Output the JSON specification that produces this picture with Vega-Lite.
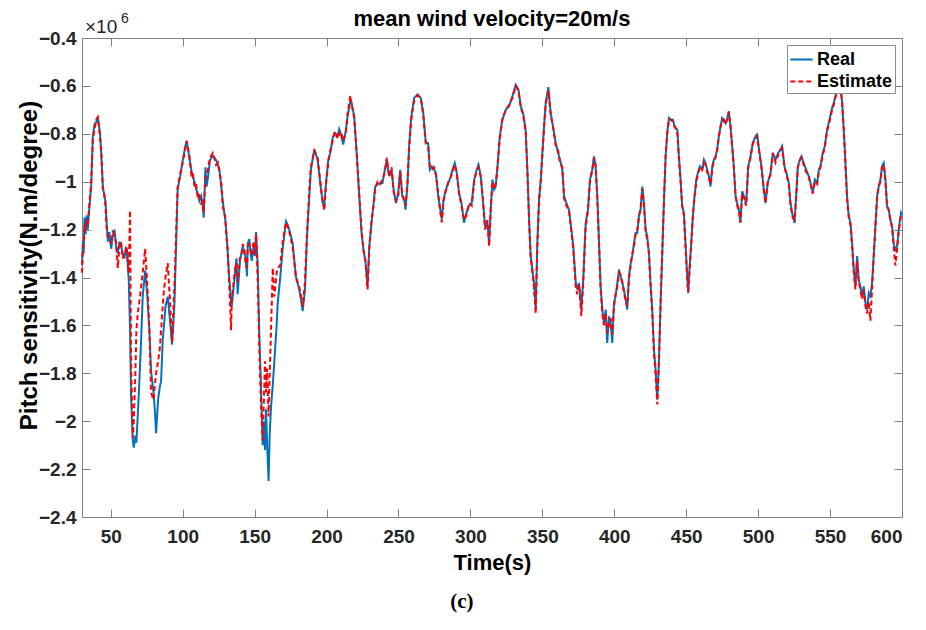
{
"$schema": "https://vega.github.io/schema/vega-lite/v6.json",
"width": 820, "height": 479,
"autosize": {"type": "none"},
"padding": {"left": 82, "top": 38, "right": 24, "bottom": 113},
"background": "white",
"title": {"text": "mean wind velocity=20m/s", "font": "Liberation Sans", "fontSize": 22, "fontWeight": "bold", "color": "#000000", "offset": 8, "dy": 27, "anchor": "middle"},
"config": {"view": {"stroke": null}, "font": "Liberation Sans"},
"data": {"values": [
{"t":30,"Real":-1.35,"Estimate":-1.38},{"t":30.6,"Real":-1.25,"Estimate":-1.28},{"t":31.2,"Real":-1.3,"Estimate":-1.26},{"t":31.7,"Real":-1.15,"Estimate":-1.18},{"t":32.5,"Real":-1.22,"Estimate":-1.2},{"t":33.2,"Real":-1.14,"Estimate":-1.17},{"t":34,"Real":-1.2,"Estimate":-1.18},{"t":35,"Real":-1.12,"Estimate":-1.1},{"t":36.4,"Real":-1.02,"Estimate":-1.0},{"t":37.5,"Real":-0.81,"Estimate":-0.83},{"t":38.7,"Real":-0.76,"Estimate":-0.78},{"t":40,"Real":-0.75,"Estimate":-0.74},{"t":41,"Real":-0.73,"Estimate":-0.73},{"t":42.6,"Real":-0.8,"Estimate":-0.82},{"t":43.5,"Real":-0.9,"Estimate":-0.88},{"t":44.5,"Real":-1.02,"Estimate":-1.04},{"t":45.5,"Real":-1.06,"Estimate":-1.05},{"t":46.3,"Real":-1.08,"Estimate":-1.1},{"t":47.2,"Real":-1.18,"Estimate":-1.2},{"t":48,"Real":-1.25,"Estimate":-1.23},{"t":49,"Real":-1.21,"Estimate":-1.24},{"t":50.3,"Real":-1.28,"Estimate":-1.26},{"t":51.3,"Real":-1.23,"Estimate":-1.21},{"t":52.6,"Real":-1.2,"Estimate":-1.22},{"t":53.6,"Real":-1.27,"Estimate":-1.25},{"t":54.9,"Real":-1.3,"Estimate":-1.36},{"t":56,"Real":-1.25,"Estimate":-1.27},{"t":57.2,"Real":-1.27,"Estimate":-1.25},{"t":58.3,"Real":-1.3,"Estimate":-1.32},{"t":59.5,"Real":-1.32,"Estimate":-1.3},{"t":60.3,"Real":-1.28,"Estimate":-1.3},{"t":61.1,"Real":-1.29,"Estimate":-1.27},{"t":62.5,"Real":-1.41,"Estimate":-1.38},{"t":63.4,"Real":-1.62,"Estimate":-1.12},{"t":64.1,"Real":-1.9,"Estimate":-1.75},{"t":65.3,"Real":-2.08,"Estimate":-2.07},{"t":66,"Real":-2.11,"Estimate":-2.0},{"t":67.1,"Real":-2.06,"Estimate":-1.8},{"t":67.8,"Real":-2.09,"Estimate":-1.62},{"t":68.8,"Real":-1.97,"Estimate":-1.55},{"t":69.9,"Real":-1.83,"Estimate":-1.5},{"t":71.1,"Real":-1.66,"Estimate":-1.44},{"t":72.2,"Real":-1.48,"Estimate":-1.38},{"t":73.9,"Real":-1.37,"Estimate":-1.28},{"t":75.3,"Real":-1.47,"Estimate":-1.42},{"t":76.9,"Real":-1.63,"Estimate":-1.62},{"t":78,"Real":-1.79,"Estimate":-1.88},{"t":79.7,"Real":-1.88,"Estimate":-1.91},{"t":80.6,"Real":-1.95,"Estimate":-1.85},{"t":81.5,"Real":-2.05,"Estimate":-1.8},{"t":82.9,"Real":-1.91,"Estimate":-1.75},{"t":84,"Real":-1.86,"Estimate":-1.7},{"t":85,"Real":-1.83,"Estimate":-1.62},{"t":86.1,"Real":-1.66,"Estimate":-1.52},{"t":87,"Real":-1.6,"Estimate":-1.45},{"t":88,"Real":-1.52,"Estimate":-1.4},{"t":89.6,"Real":-1.48,"Estimate":-1.34},{"t":91.2,"Real":-1.58,"Estimate":-1.5},{"t":92.6,"Real":-1.68,"Estimate":-1.67},{"t":94.2,"Real":-1.52,"Estimate":-1.45},{"t":95.4,"Real":-1.27,"Estimate":-1.22},{"t":96.5,"Real":-1.03,"Estimate":-1.02},{"t":98.2,"Real":-0.98,"Estimate":-0.97},{"t":100,"Real":-0.91,"Estimate":-0.92},{"t":101.9,"Real":-0.85,"Estimate":-0.86},{"t":102.8,"Real":-0.83,"Estimate":-0.83},{"t":104.6,"Real":-0.9,"Estimate":-0.89},{"t":106,"Real":-0.95,"Estimate":-0.97},{"t":107,"Real":-0.98,"Estimate":-0.96},{"t":108.2,"Real":-1.0,"Estimate":-1.02},{"t":109.3,"Real":-1.03,"Estimate":-1.01},{"t":110.5,"Real":-1.05,"Estimate":-1.07},{"t":111.6,"Real":-1.08,"Estimate":-1.06},{"t":112.8,"Real":-1.06,"Estimate":-1.09},{"t":113.9,"Real":-1.1,"Estimate":-1.08},{"t":114.6,"Real":-1.15,"Estimate":-1.13},{"t":115.8,"Real":-0.94,"Estimate":-0.98},{"t":116.6,"Real":-1.02,"Estimate":-0.97},{"t":117.4,"Real":-0.99,"Estimate":-0.95},{"t":119,"Real":-0.91,"Estimate":-0.9},{"t":120.9,"Real":-0.89,"Estimate":-0.88},{"t":123.2,"Real":-0.91,"Estimate":-0.93},{"t":124.5,"Real":-0.93,"Estimate":-0.92},{"t":125.5,"Real":-0.95,"Estimate":-0.96},{"t":126.8,"Real":-1.02,"Estimate":-1.0},{"t":127.8,"Real":-1.08,"Estimate":-1.1},{"t":129.6,"Real":-1.16,"Estimate":-1.15},{"t":130.5,"Real":-1.22,"Estimate":-1.24},{"t":131.3,"Real":-1.3,"Estimate":-1.28},{"t":132.1,"Real":-1.38,"Estimate":-1.4},{"t":132.9,"Real":-1.44,"Estimate":-1.5},{"t":133.6,"Real":-1.5,"Estimate":-1.62},{"t":134.1,"Real":-1.52,"Estimate":-1.5},{"t":135.4,"Real":-1.44,"Estimate":-1.42},{"t":136.6,"Real":-1.37,"Estimate":-1.36},{"t":137.4,"Real":-1.32,"Estimate":-1.34},{"t":138.2,"Real":-1.47,"Estimate":-1.42},{"t":139.8,"Real":-1.33,"Estimate":-1.32},{"t":140.8,"Real":-1.3,"Estimate":-1.31},{"t":141.7,"Real":-1.27,"Estimate":-1.26},{"t":142.9,"Real":-1.3,"Estimate":-1.28},{"t":143.5,"Real":-1.31,"Estimate":-1.33},{"t":144.7,"Real":-1.395,"Estimate":-1.36},{"t":145.2,"Real":-1.26,"Estimate":-1.27},{"t":146.3,"Real":-1.24,"Estimate":-1.26},{"t":147.2,"Real":-1.3,"Estimate":-1.28},{"t":148,"Real":-1.33,"Estimate":-1.31},{"t":149.3,"Real":-1.27,"Estimate":-1.25},{"t":150.2,"Real":-1.31,"Estimate":-1.3},{"t":151,"Real":-1.21,"Estimate":-1.22},{"t":152.1,"Real":-1.34,"Estimate":-1.4},{"t":153.3,"Real":-1.65,"Estimate":-1.7},{"t":154.4,"Real":-1.85,"Estimate":-1.93},{"t":155.6,"Real":-2.1,"Estimate":-2.08},{"t":156.5,"Real":-2.0,"Estimate":-1.9},{"t":157.2,"Real":-2.12,"Estimate":-1.75},{"t":157.9,"Real":-1.95,"Estimate":-1.88},{"t":158.7,"Real":-2.1,"Estimate":-1.78},{"t":159.7,"Real":-2.25,"Estimate":-1.98},{"t":160.5,"Real":-2.05,"Estimate":-1.8},{"t":161.4,"Real":-1.94,"Estimate":-1.62},{"t":162.6,"Real":-1.85,"Estimate":-1.36},{"t":163.7,"Real":-1.75,"Estimate":-1.48},{"t":165.3,"Real":-1.6,"Estimate":-1.38},{"t":166,"Real":-1.51,"Estimate":-1.36},{"t":167.8,"Real":-1.4,"Estimate":-1.35},{"t":169.5,"Real":-1.28,"Estimate":-1.25},{"t":171.8,"Real":-1.165,"Estimate":-1.17},{"t":173,"Real":-1.18,"Estimate":-1.19},{"t":174.1,"Real":-1.2,"Estimate":-1.21},{"t":176.4,"Real":-1.256,"Estimate":-1.27},{"t":178.7,"Real":-1.395,"Estimate":-1.4},{"t":181,"Real":-1.45,"Estimate":-1.44},{"t":182.4,"Real":-1.5,"Estimate":-1.48},{"t":183.4,"Real":-1.54,"Estimate":-1.52},{"t":185,"Real":-1.45,"Estimate":-1.42},{"t":186.4,"Real":-1.23,"Estimate":-1.22},{"t":188,"Real":-1.06,"Estimate":-1.04},{"t":189.1,"Real":-0.95,"Estimate":-0.94},{"t":191.5,"Real":-0.866,"Estimate":-0.87},{"t":193.8,"Real":-0.908,"Estimate":-0.9},{"t":195.6,"Real":-1.005,"Estimate":-1.0},{"t":197.3,"Real":-1.089,"Estimate":-1.08},{"t":198.4,"Real":-1.1,"Estimate":-1.12},{"t":199.6,"Real":-1.005,"Estimate":-1.01},{"t":201.2,"Real":-0.908,"Estimate":-0.92},{"t":202.6,"Real":-0.88,"Estimate":-0.87},{"t":204.2,"Real":-0.817,"Estimate":-0.83},{"t":205.8,"Real":-0.796,"Estimate":-0.79},{"t":207.7,"Real":-0.81,"Estimate":-0.82},{"t":208.8,"Real":-0.78,"Estimate":-0.8},{"t":210,"Real":-0.803,"Estimate":-0.79},{"t":211.6,"Real":-0.845,"Estimate":-0.83},{"t":213.5,"Real":-0.782,"Estimate":-0.79},{"t":214.6,"Real":-0.727,"Estimate":-0.72},{"t":216.5,"Real":-0.664,"Estimate":-0.64},{"t":217.4,"Real":-0.67,"Estimate":-0.68},{"t":219.2,"Real":-0.727,"Estimate":-0.73},{"t":221.1,"Real":-0.894,"Estimate":-0.9},{"t":222.7,"Real":-1.06,"Estimate":-1.05},{"t":224.3,"Real":-1.214,"Estimate":-1.2},{"t":225.7,"Real":-1.284,"Estimate":-1.29},{"t":227.1,"Real":-1.34,"Estimate":-1.33},{"t":228.5,"Real":-1.437,"Estimate":-1.45},{"t":229.7,"Real":-1.27,"Estimate":-1.28},{"t":231.3,"Real":-1.17,"Estimate":-1.16},{"t":232.7,"Real":-1.089,"Estimate":-1.1},{"t":233.8,"Real":-1.02,"Estimate":-1.03},{"t":235.4,"Real":-1.012,"Estimate":-1.0},{"t":237.3,"Real":-1.005,"Estimate":-1.01},{"t":238.9,"Real":-1.005,"Estimate":-0.99},{"t":240.5,"Real":-0.95,"Estimate":-0.96},{"t":241.9,"Real":-0.908,"Estimate":-0.9},{"t":243.5,"Real":-0.977,"Estimate":-0.98},{"t":245.2,"Real":-0.95,"Estimate":-0.94},{"t":246.6,"Real":-1.033,"Estimate":-1.04},{"t":248.2,"Real":-1.089,"Estimate":-1.08},{"t":249.8,"Real":-1.047,"Estimate":-1.06},{"t":251.2,"Real":-0.95,"Estimate":-0.96},{"t":252.6,"Real":-1.06,"Estimate":-1.05},{"t":254,"Real":-1.075,"Estimate":-1.08},{"t":254.9,"Real":-1.117,"Estimate":-1.1},{"t":256.3,"Real":-1.005,"Estimate":-1.0},{"t":257.4,"Real":-0.85,"Estimate":-0.86},{"t":258.6,"Real":-0.75,"Estimate":-0.76},{"t":259.3,"Real":-0.713,"Estimate":-0.72},{"t":260.9,"Real":-0.65,"Estimate":-0.66},{"t":263.2,"Real":-0.636,"Estimate":-0.64},{"t":265.5,"Real":-0.65,"Estimate":-0.65},{"t":267.2,"Real":-0.713,"Estimate":-0.72},{"t":269,"Real":-0.838,"Estimate":-0.84},{"t":270.6,"Real":-0.838,"Estimate":-0.85},{"t":271.8,"Real":-0.95,"Estimate":-0.94},{"t":273.2,"Real":-0.936,"Estimate":-0.95},{"t":274.8,"Real":-0.95,"Estimate":-0.94},{"t":276,"Real":-0.963,"Estimate":-0.97},{"t":277.6,"Real":-1.06,"Estimate":-1.05},{"t":278.7,"Real":-1.1,"Estimate":-1.11},{"t":280.1,"Real":-1.158,"Estimate":-1.17},{"t":281.3,"Real":-1.075,"Estimate":-1.08},{"t":282.9,"Real":-1.033,"Estimate":-1.04},{"t":284.7,"Real":-1.005,"Estimate":-1.0},{"t":286.4,"Real":-0.977,"Estimate":-0.98},{"t":287.5,"Real":-0.95,"Estimate":-0.96},{"t":289.1,"Real":-0.922,"Estimate":-0.93},{"t":290.5,"Real":-0.963,"Estimate":-0.96},{"t":292.1,"Real":-1.047,"Estimate":-1.05},{"t":293.8,"Real":-1.089,"Estimate":-1.1},{"t":295.6,"Real":-1.172,"Estimate":-1.16},{"t":297.2,"Real":-1.13,"Estimate":-1.14},{"t":299.1,"Real":-1.1,"Estimate":-1.09},{"t":300.9,"Real":-1.089,"Estimate":-1.1},{"t":302.6,"Real":-0.991,"Estimate":-1.0},{"t":304.4,"Real":-0.95,"Estimate":-0.95},{"t":305.6,"Real":-0.929,"Estimate":-0.94},{"t":307.2,"Real":-0.977,"Estimate":-0.98},{"t":308.8,"Real":-1.089,"Estimate":-1.08},{"t":310.2,"Real":-1.186,"Estimate":-1.2},{"t":311.8,"Real":-1.172,"Estimate":-1.16},{"t":313,"Real":-1.256,"Estimate":-1.27},{"t":314.1,"Real":-1.117,"Estimate":-1.12},{"t":315.3,"Real":-0.991,"Estimate":-1.0},{"t":316.5,"Real":-1.033,"Estimate":-1.03},{"t":317.6,"Real":-1.02,"Estimate":-1.01},{"t":318.8,"Real":-0.936,"Estimate":-0.94},{"t":320.4,"Real":-0.81,"Estimate":-0.82},{"t":322.2,"Real":-0.741,"Estimate":-0.74},{"t":324.6,"Real":-0.699,"Estimate":-0.7},{"t":326.9,"Real":-0.685,"Estimate":-0.68},{"t":329.2,"Real":-0.643,"Estimate":-0.65},{"t":331.5,"Real":-0.595,"Estimate":-0.6},{"t":333.4,"Real":-0.615,"Estimate":-0.62},{"t":335,"Real":-0.685,"Estimate":-0.69},{"t":336.6,"Real":-0.713,"Estimate":-0.72},{"t":338.4,"Real":-0.783,"Estimate":-0.79},{"t":339.6,"Real":-0.95,"Estimate":-0.96},{"t":340.8,"Real":-1.158,"Estimate":-1.17},{"t":341.9,"Real":-1.31,"Estimate":-1.32},{"t":343.1,"Real":-1.367,"Estimate":-1.38},{"t":344.2,"Real":-1.423,"Estimate":-1.44},{"t":345.4,"Real":-1.534,"Estimate":-1.55},{"t":346.5,"Real":-1.256,"Estimate":-1.27},{"t":347.7,"Real":-1.075,"Estimate":-1.08},{"t":348.9,"Real":-0.991,"Estimate":-1.0},{"t":350,"Real":-0.88,"Estimate":-0.89},{"t":351.2,"Real":-0.769,"Estimate":-0.77},{"t":352.3,"Real":-0.671,"Estimate":-0.68},{"t":354.2,"Real":-0.605,"Estimate":-0.62},{"t":355.8,"Real":-0.713,"Estimate":-0.72},{"t":357.4,"Real":-0.769,"Estimate":-0.77},{"t":359.3,"Real":-0.838,"Estimate":-0.85},{"t":360.9,"Real":-0.88,"Estimate":-0.87},{"t":362.3,"Real":-0.908,"Estimate":-0.92},{"t":363.9,"Real":-0.95,"Estimate":-0.94},{"t":365.1,"Real":-1.06,"Estimate":-1.07},{"t":366.7,"Real":-1.089,"Estimate":-1.1},{"t":368.5,"Real":-1.117,"Estimate":-1.12},{"t":370.2,"Real":-1.2,"Estimate":-1.21},{"t":371.5,"Real":-1.27,"Estimate":-1.28},{"t":373.2,"Real":-1.42,"Estimate":-1.44},{"t":374.3,"Real":-1.45,"Estimate":-1.47},{"t":375.5,"Real":-1.423,"Estimate":-1.43},{"t":377.1,"Real":-1.534,"Estimate":-1.56},{"t":378.5,"Real":-1.395,"Estimate":-1.41},{"t":380.1,"Real":-1.172,"Estimate":-1.19},{"t":381.7,"Real":-1.117,"Estimate":-1.12},{"t":383.1,"Real":-0.991,"Estimate":-1.0},{"t":384.7,"Real":-0.95,"Estimate":-0.95},{"t":385.9,"Real":-0.894,"Estimate":-0.9},{"t":387,"Real":-0.936,"Estimate":-0.93},{"t":388.2,"Real":-1.06,"Estimate":-1.07},{"t":389.4,"Real":-1.256,"Estimate":-1.26},{"t":390.5,"Real":-1.437,"Estimate":-1.45},{"t":391.7,"Real":-1.534,"Estimate":-1.55},{"t":392.8,"Real":-1.59,"Estimate":-1.6},{"t":394,"Real":-1.534,"Estimate":-1.55},{"t":395.1,"Real":-1.673,"Estimate":-1.63},{"t":396.3,"Real":-1.562,"Estimate":-1.6},{"t":397.5,"Real":-1.59,"Estimate":-1.57},{"t":398.6,"Real":-1.673,"Estimate":-1.64},{"t":399.8,"Real":-1.506,"Estimate":-1.52},{"t":400.9,"Real":-1.478,"Estimate":-1.47},{"t":402.1,"Real":-1.423,"Estimate":-1.44},{"t":403.3,"Real":-1.367,"Estimate":-1.38},{"t":404.4,"Real":-1.395,"Estimate":-1.39},{"t":405.6,"Real":-1.423,"Estimate":-1.42},{"t":406.7,"Real":-1.45,"Estimate":-1.46},{"t":407.9,"Real":-1.492,"Estimate":-1.5},{"t":409,"Real":-1.534,"Estimate":-1.52},{"t":410.2,"Real":-1.395,"Estimate":-1.41},{"t":411.4,"Real":-1.34,"Estimate":-1.35},{"t":412.5,"Real":-1.31,"Estimate":-1.3},{"t":413.7,"Real":-1.256,"Estimate":-1.27},{"t":414.8,"Real":-1.214,"Estimate":-1.22},{"t":416,"Real":-1.214,"Estimate":-1.2},{"t":417.1,"Real":-1.144,"Estimate":-1.15},{"t":418.3,"Real":-1.117,"Estimate":-1.11},{"t":419.5,"Real":-1.02,"Estimate":-1.03},{"t":420.6,"Real":-1.089,"Estimate":-1.09},{"t":421.8,"Real":-1.2,"Estimate":-1.21},{"t":422.9,"Real":-1.228,"Estimate":-1.24},{"t":424.1,"Real":-1.298,"Estimate":-1.3},{"t":425.2,"Real":-1.423,"Estimate":-1.43},{"t":426.4,"Real":-1.534,"Estimate":-1.55},{"t":427.6,"Real":-1.7,"Estimate":-1.72},{"t":428.7,"Real":-1.785,"Estimate":-1.8},{"t":429.9,"Real":-1.91,"Estimate":-1.93},{"t":431,"Real":-1.757,"Estimate":-1.76},{"t":432.2,"Real":-1.506,"Estimate":-1.5},{"t":433.3,"Real":-1.31,"Estimate":-1.3},{"t":434.5,"Real":-1.089,"Estimate":-1.08},{"t":435.7,"Real":-0.894,"Estimate":-0.89},{"t":436.8,"Real":-0.796,"Estimate":-0.8},{"t":438,"Real":-0.734,"Estimate":-0.74},{"t":439.1,"Real":-0.741,"Estimate":-0.74},{"t":440.8,"Real":-0.741,"Estimate":-0.75},{"t":441.9,"Real":-0.769,"Estimate":-0.77},{"t":443.8,"Real":-0.783,"Estimate":-0.79},{"t":444.9,"Real":-0.894,"Estimate":-0.9},{"t":446.1,"Real":-0.991,"Estimate":-1.0},{"t":447.2,"Real":-1.103,"Estimate":-1.1},{"t":448.4,"Real":-1.13,"Estimate":-1.14},{"t":449.5,"Real":-1.256,"Estimate":-1.27},{"t":450.7,"Real":-1.395,"Estimate":-1.41},{"t":451.4,"Real":-1.465,"Estimate":-1.46},{"t":452.3,"Real":-1.367,"Estimate":-1.37},{"t":453.5,"Real":-1.256,"Estimate":-1.26},{"t":454.6,"Real":-1.144,"Estimate":-1.15},{"t":455.8,"Real":-1.06,"Estimate":-1.06},{"t":457,"Real":-0.991,"Estimate":-1.0},{"t":458.1,"Real":-0.963,"Estimate":-0.97},{"t":459.5,"Real":-0.936,"Estimate":-0.94},{"t":461.1,"Real":-0.95,"Estimate":-0.95},{"t":462.3,"Real":-0.908,"Estimate":-0.92},{"t":463.4,"Real":-0.922,"Estimate":-0.93},{"t":464.6,"Real":-0.95,"Estimate":-0.96},{"t":465.8,"Real":-0.977,"Estimate":-0.98},{"t":466.9,"Real":-1.02,"Estimate":-1.01},{"t":468.1,"Real":-0.936,"Estimate":-0.95},{"t":469.2,"Real":-0.908,"Estimate":-0.91},{"t":470.4,"Real":-0.894,"Estimate":-0.9},{"t":471.5,"Real":-0.866,"Estimate":-0.87},{"t":472.7,"Real":-0.81,"Estimate":-0.81},{"t":473.9,"Real":-0.769,"Estimate":-0.77},{"t":475,"Real":-0.734,"Estimate":-0.74},{"t":476.2,"Real":-0.741,"Estimate":-0.75},{"t":477.3,"Real":-0.755,"Estimate":-0.76},{"t":478.5,"Real":-0.734,"Estimate":-0.74},{"t":479.6,"Real":-0.706,"Estimate":-0.71},{"t":480.8,"Real":-0.769,"Estimate":-0.77},{"t":482,"Real":-0.852,"Estimate":-0.86},{"t":483.1,"Real":-0.936,"Estimate":-0.94},{"t":484.3,"Real":-1.06,"Estimate":-1.06},{"t":485.4,"Real":-1.089,"Estimate":-1.1},{"t":486.6,"Real":-1.117,"Estimate":-1.12},{"t":487.7,"Real":-1.172,"Estimate":-1.17},{"t":488.9,"Real":-1.04,"Estimate":-1.05},{"t":490.1,"Real":-1.06,"Estimate":-1.07},{"t":491.7,"Real":-1.089,"Estimate":-1.1},{"t":493.1,"Real":-0.936,"Estimate":-0.94},{"t":494.7,"Real":-0.894,"Estimate":-0.9},{"t":496.3,"Real":-0.838,"Estimate":-0.84},{"t":498.2,"Real":-0.81,"Estimate":-0.82},{"t":499.3,"Real":-0.803,"Estimate":-0.81},{"t":501,"Real":-0.88,"Estimate":-0.89},{"t":502.3,"Real":-0.936,"Estimate":-0.94},{"t":504,"Real":-1.033,"Estimate":-1.04},{"t":505.1,"Real":-1.089,"Estimate":-1.09},{"t":506.7,"Real":-1.005,"Estimate":-1.0},{"t":508.6,"Real":-0.963,"Estimate":-0.97},{"t":510.2,"Real":-0.88,"Estimate":-0.88},{"t":512.1,"Real":-0.908,"Estimate":-0.92},{"t":513.9,"Real":-0.88,"Estimate":-0.89},{"t":515.5,"Real":-0.866,"Estimate":-0.87},{"t":516.7,"Real":-0.852,"Estimate":-0.86},{"t":518.3,"Real":-0.936,"Estimate":-0.94},{"t":519.7,"Real":-0.963,"Estimate":-0.97},{"t":521.3,"Real":-1.005,"Estimate":-1.01},{"t":522.5,"Real":-1.089,"Estimate":-1.1},{"t":524.1,"Real":-1.144,"Estimate":-1.15},{"t":525.3,"Real":-1.172,"Estimate":-1.16},{"t":526.4,"Real":-1.06,"Estimate":-1.07},{"t":527.6,"Real":-0.936,"Estimate":-0.94},{"t":529,"Real":-0.908,"Estimate":-0.91},{"t":530.1,"Real":-0.894,"Estimate":-0.9},{"t":531.7,"Real":-0.922,"Estimate":-0.93},{"t":533.4,"Real":-0.95,"Estimate":-0.96},{"t":535.2,"Real":-0.977,"Estimate":-0.98},{"t":536.4,"Real":-1.005,"Estimate":-1.01},{"t":538,"Real":-1.047,"Estimate":-1.05},{"t":539.4,"Real":-0.991,"Estimate":-1.0},{"t":541,"Real":-1.005,"Estimate":-1.01},{"t":542.2,"Real":-0.95,"Estimate":-0.96},{"t":543.3,"Real":-0.936,"Estimate":-0.94},{"t":544.9,"Real":-0.88,"Estimate":-0.89},{"t":546.3,"Real":-0.852,"Estimate":-0.86},{"t":547.9,"Real":-0.783,"Estimate":-0.79},{"t":549.6,"Real":-0.741,"Estimate":-0.75},{"t":551.4,"Real":-0.692,"Estimate":-0.7},{"t":552.6,"Real":-0.671,"Estimate":-0.68},{"t":553.7,"Real":-0.643,"Estimate":-0.65},{"t":554.9,"Real":-0.615,"Estimate":-0.62},{"t":556,"Real":-0.59,"Estimate":-0.6},{"t":557.2,"Real":-0.6,"Estimate":-0.6},{"t":558.4,"Real":-0.671,"Estimate":-0.67},{"t":559.5,"Real":-0.783,"Estimate":-0.78},{"t":560.7,"Real":-0.922,"Estimate":-0.93},{"t":561.8,"Real":-1.06,"Estimate":-1.07},{"t":563,"Real":-1.144,"Estimate":-1.15},{"t":564.2,"Real":-1.172,"Estimate":-1.18},{"t":565.3,"Real":-1.256,"Estimate":-1.27},{"t":566.5,"Real":-1.367,"Estimate":-1.38},{"t":567.6,"Real":-1.437,"Estimate":-1.45},{"t":568.8,"Real":-1.31,"Estimate":-1.33},{"t":569.9,"Real":-1.409,"Estimate":-1.42},{"t":571.1,"Real":-1.437,"Estimate":-1.45},{"t":572.2,"Real":-1.478,"Estimate":-1.49},{"t":573.4,"Real":-1.437,"Estimate":-1.45},{"t":574.6,"Real":-1.506,"Estimate":-1.52},{"t":575.7,"Real":-1.534,"Estimate":-1.55},{"t":576.9,"Real":-1.465,"Estimate":-1.5},{"t":578,"Real":-1.478,"Estimate":-1.58},{"t":579.2,"Real":-1.423,"Estimate":-1.45},{"t":580.3,"Real":-1.31,"Estimate":-1.32},{"t":581.5,"Real":-1.186,"Estimate":-1.19},{"t":582.7,"Real":-1.06,"Estimate":-1.07},{"t":583.8,"Real":-1.02,"Estimate":-1.02},{"t":585,"Real":-0.991,"Estimate":-1.0},{"t":586.1,"Real":-0.936,"Estimate":-0.94},{"t":587.3,"Real":-0.922,"Estimate":-0.93},{"t":588.5,"Real":-0.991,"Estimate":-1.0},{"t":589.6,"Real":-1.103,"Estimate":-1.1},{"t":590.8,"Real":-1.117,"Estimate":-1.12},{"t":591.9,"Real":-1.158,"Estimate":-1.16},{"t":593.1,"Real":-1.186,"Estimate":-1.19},{"t":594.2,"Real":-1.256,"Estimate":-1.27},{"t":595.4,"Real":-1.284,"Estimate":-1.35},{"t":596.6,"Real":-1.27,"Estimate":-1.28},{"t":597.7,"Real":-1.2,"Estimate":-1.21},{"t":599.3,"Real":-1.13,"Estimate":-1.14},{"t":600,"Real":-1.14,"Estimate":-1.15}
]},
"resolve": {"axis": {"x": "independent", "y": "independent"}},
"layer": [
{
"transform": [{"fold": ["Real", "Estimate"], "as": ["series", "value"]}, {"filter": "datum.series === 'Real'"}],
"mark": {"type": "line", "strokeWidth": 2},
"encoding": {
"x": {"field": "t", "type": "quantitative", "scale": {"domain": [30, 600], "nice": false, "zero": false},
"axis": {"orient": "bottom", "values": [50,100,150,200,250,300,350,400,450,500,550,600], "grid": false, "tickSize": -8, "tickColor": "#808080", "domainColor": "#808080", "labelPadding": 18, "labelFont": "Liberation Sans", "labelFontSize": 19, "labelFontWeight": "bold", "labelColor": "#262626", "title": "Time(s)", "titleFont": "Liberation Sans", "titleFontSize": 22, "titleFontWeight": "bold", "titleColor": "#000000", "titlePadding": 6}},
"y": {"field": "value", "type": "quantitative", "scale": {"domain": [-2.4, -0.4], "nice": false, "zero": false},
"axis": {"orient": "left", "values": [-2.4,-2.2,-2,-1.8,-1.6,-1.4,-1.2,-1,-0.8,-0.6,-0.4], "format": ".1~f", "grid": false, "tickSize": -8, "tickColor": "#808080", "domainColor": "#808080", "labelPadding": 14, "labelFont": "Liberation Sans", "labelFontSize": 19, "labelFontWeight": "bold", "labelColor": "#262626", "title": "Pitch sensitivity(N.m/degree)", "titleFont": "Liberation Sans", "titleFontSize": 24, "titleFontWeight": "bold", "titleColor": "#000000", "titlePadding": -3, "titleY": 227}},
"color": {"field": "series", "type": "nominal", "scale": {"domain": ["Real", "Estimate"], "range": ["#0072BD", "#FF0000"]},
"legend": {"title": null, "orient": "top-right", "offset": 7, "fillColor": "white", "strokeColor": "#8c8c8c", "padding": 2, "symbolType": "stroke", "symbolSize": 500, "symbolStrokeWidth": 2, "labelFont": "Liberation Sans", "labelFontSize": 18, "labelFontWeight": "bold", "labelColor": "#000000", "rowPadding": 0, "labelOffset": 3}},
"strokeDash": {"field": "series", "type": "nominal", "scale": {"domain": ["Real", "Estimate"], "range": [[1, 0], [5, 3]]},
"legend": {"title": null, "orient": "top-right", "offset": 7, "fillColor": "white", "strokeColor": "#8c8c8c", "padding": 2, "symbolType": "stroke", "symbolSize": 500, "symbolStrokeWidth": 2, "labelFont": "Liberation Sans", "labelFontSize": 18, "labelFontWeight": "bold", "labelColor": "#000000", "rowPadding": 0, "labelOffset": 3}}
}
},
{
"transform": [{"fold": ["Real", "Estimate"], "as": ["series", "value"]}, {"filter": "datum.series === 'Estimate'"}],
"mark": {"type": "line", "strokeWidth": 2},
"encoding": {
"x": {"field": "t", "type": "quantitative", "axis": null},
"y": {"field": "value", "type": "quantitative", "axis": null},
"color": {"field": "series", "type": "nominal"},
"strokeDash": {"field": "series", "type": "nominal"}
}
},
{
"data": {"values": [{}]},
"mark": {"type": "text", "text": "×10", "align": "left", "baseline": "alphabetic", "dx": 3, "dy": -5, "font": "Liberation Sans", "fontSize": 19, "color": "#262626"},
"encoding": {
"x": {"datum": 30, "type": "quantitative", "axis": {"orient": "top", "values": [50,100,150,200,250,300,350,400,450,500,550,600], "labels": false, "title": null, "grid": false, "tickSize": -8, "tickColor": "#808080", "domainColor": "#808080"}},
"y": {"datum": -0.4, "type": "quantitative", "axis": {"orient": "right", "values": [-2.4,-2.2,-2,-1.8,-1.6,-1.4,-1.2,-1,-0.8,-0.6,-0.4], "labels": false, "title": null, "grid": false, "tickSize": -8, "tickColor": "#808080", "domainColor": "#808080"}}
}
},
{
"data": {"values": [{}]},
"mark": {"type": "text", "text": "6", "align": "left", "baseline": "alphabetic", "dx": 39, "dy": -15, "font": "Liberation Sans", "fontSize": 14, "color": "#262626"},
"encoding": {
"x": {"datum": 30, "type": "quantitative", "axis": null},
"y": {"datum": -0.4, "type": "quantitative", "axis": null}
}
},
{
"data": {"values": [{}]},
"mark": {"type": "text", "text": "(c)", "align": "center", "baseline": "middle", "dy": 85, "font": "Liberation Serif", "fontSize": 21, "fontWeight": "bold", "color": "#000000"},
"encoding": {
"x": {"datum": 294, "type": "quantitative", "axis": null},
"y": {"datum": -2.4, "type": "quantitative", "axis": null}
}
}
]
}
